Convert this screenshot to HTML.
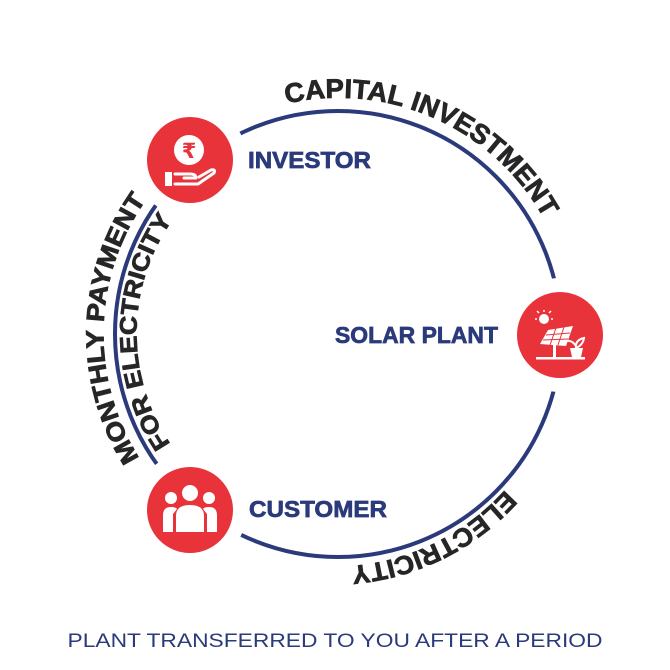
<!DOCTYPE html>
<html><head><meta charset="utf-8"><style>
html,body{margin:0;padding:0;background:#fff;}
svg{display:block;}
</style></head><body>
<svg width="670" height="670" viewBox="0 0 670 670" xmlns="http://www.w3.org/2000/svg">
<defs>
<path id="pCap" d="M265.1,109.6 A235,235 0 0 1 553.6,238.0"/>
<path id="pMon" d="M146.3,468.2 A232,232 0 0 1 153.6,189.9"/>
<path id="pFor" d="M172.6,447 A197,197 0 0 1 174.6,217"/>
<path id="pEle" d="M504,491 A232,232 0 0 1 353,566"/>
</defs>
<circle cx="338" cy="334" r="223" fill="none" stroke="#2b3a7a" stroke-width="4"/>
<circle cx="190" cy="160" r="50" fill="#e8333a" stroke="#fff" stroke-width="14"/>
<circle cx="560" cy="335" r="50" fill="#e8333a" stroke="#fff" stroke-width="14"/>
<circle cx="190" cy="510" r="50" fill="#e8333a" stroke="#fff" stroke-width="14"/>
<!-- investor icon -->
<circle cx="189" cy="150" r="15" fill="#fff"/>
<text x="189" y="158" font-family="Liberation Sans, DejaVu Sans, sans-serif" font-weight="bold" font-size="21" fill="#e8333a" text-anchor="middle">₹</text>
<rect x="165" y="172" width="7" height="14" fill="#fff"/>
<path d="M175,174 L190,174 Q196,174 196,178 L184,178 M175,184 L198,184 L214,173 Q216,169 211,170 L199,177" fill="none" stroke="#fff" stroke-width="3" stroke-linejoin="round" stroke-linecap="round"/>
<!-- solar icon -->
<circle cx="544" cy="319" r="5" fill="#fff"/>
<g stroke="#fff" stroke-width="1.5">
<line x1="544" y1="310" x2="544" y2="312"/><line x1="537" y1="319" x2="535" y2="319"/><line x1="551" y1="319" x2="553" y2="319"/><line x1="539" y1="313" x2="537" y2="311"/><line x1="549" y1="313" x2="551" y2="311"/>
</g>
<polygon points="548,330 573,326 566,346 540,344" fill="#fff"/>
<g stroke="#e8333a" stroke-width="1"><line x1="546" y1="335" x2="570" y2="333"/><line x1="543" y1="340" x2="568" y2="339"/><line x1="556" y1="328" x2="550" y2="345"/><line x1="564" y1="327" x2="558" y2="345"/></g>
<rect x="553" y="345" width="3" height="13" fill="#fff"/>
<rect x="536" y="357" width="49" height="2.5" fill="#fff"/>
<path d="M570,348 L583,348 L581,357 L572,357 Z" fill="#fff"/>
<path d="M576,348 Q575,340 584,338 Q583,345 576,348 M576,346 Q572,340 567,341" fill="none" stroke="#fff" stroke-width="2"/>
<!-- customer icon -->
<circle cx="190" cy="493" r="8" fill="#fff"/>
<circle cx="171" cy="498" r="6" fill="#fff"/>
<circle cx="209" cy="498" r="6" fill="#fff"/>
<path d="M176,532 L176,516 Q176,505 190,505 Q204,505 204,516 L204,532 Z" fill="#fff"/>
<path d="M163,532 L163,515 Q163,507 171,507 Q176,507 177,509 L173,514 L173,532 Z" fill="#fff"/>
<path d="M217,532 L217,515 Q217,507 209,507 Q204,507 203,509 L207,514 L207,532 Z" fill="#fff"/>
<!-- labels -->
<g font-family="Liberation Sans, sans-serif" font-weight="bold" fill="#2b3a7a" stroke="#2b3a7a" stroke-width="0.7" font-size="23">
<text x="248" y="168" textLength="123" lengthAdjust="spacingAndGlyphs">INVESTOR</text>
<text x="335" y="343" textLength="163" lengthAdjust="spacingAndGlyphs">SOLAR PLANT</text>
<text x="249" y="517" textLength="138" lengthAdjust="spacingAndGlyphs">CUSTOMER</text>
</g>
<!-- curved texts -->
<g font-family="Liberation Sans, sans-serif" font-weight="bold" fill="#262626" stroke="#262626" stroke-width="0.8">
<text font-size="27"><textPath href="#pCap" startOffset="50%" text-anchor="middle" textLength="302" lengthAdjust="spacingAndGlyphs">CAPITAL INVESTMENT</textPath></text>
<text font-size="25"><textPath href="#pMon" startOffset="50%" text-anchor="middle" textLength="274" lengthAdjust="spacingAndGlyphs">MONTHLY PAYMENT</textPath></text>
<text font-size="24"><textPath href="#pFor" startOffset="50%" text-anchor="middle" textLength="238" lengthAdjust="spacingAndGlyphs">FOR ELECTRICITY</textPath></text>
<text font-size="26"><textPath href="#pEle" startOffset="50%" text-anchor="middle" textLength="176" lengthAdjust="spacingAndGlyphs">ELECTRICITY</textPath></text>
</g>
<text x="335" y="647" font-family="Liberation Sans, sans-serif" font-size="19" fill="#2b3a7a" text-anchor="middle" textLength="535" lengthAdjust="spacingAndGlyphs">PLANT TRANSFERRED TO YOU AFTER A PERIOD</text>
</svg>
</body></html>
